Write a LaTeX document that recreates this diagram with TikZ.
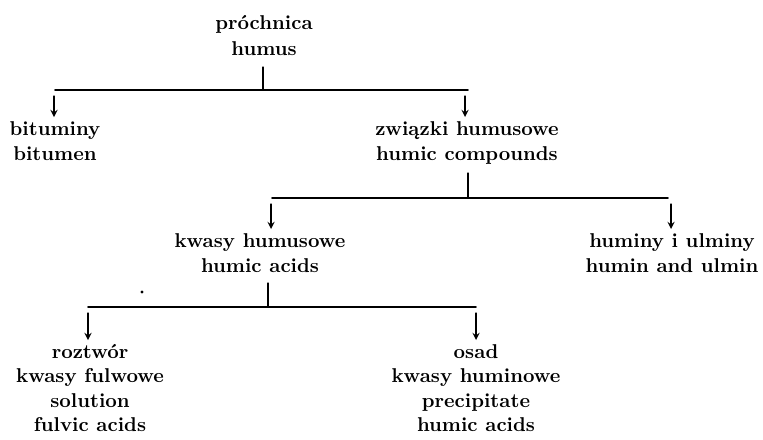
\documentclass[tikz,border=0pt]{standalone}
\usepackage{fontspec}
\usetikzlibrary{calc}

\begin{document}
\begin{tikzpicture}[x=0.5pt, y=-0.5pt, >=stealth, line cap=round,
    term/.style={anchor=north, align=center, inner sep=0pt,
        font=\bfseries\fontsize{10}{12.5}\selectfont},
    loose/.style={font=\bfseries\fontsize{10}{13}\selectfont},
    tight/.style={font=\bfseries\fontsize{10}{12.2}\selectfont},
    bar/.style={line width=0.8pt},
    stub/.style={line width=0.6pt},
    down/.style={->, line width=0.6pt, shorten >=2pt}]
    \useasboundingbox (0,0) rectangle (763,439);

    % hasła (terminy)
    \node[term, loose] (humus) at (264,15) {próchnica\\humus};
    \node[term] (bitumen) at (55,121)  {bituminy\\bitumen};
    \node[term] (humcomp) at (467,121) {związki humusowe\\humic compounds};
    \node[term] (humacid) at (260,233) {kwasy humusowe\\humic acids};
    \node[term] (humin)   at (672,233) {huminy i ulminy\\humin and ulmin};
    \node[term, tight] (fulvic) at (90,344)  {roztwór\\kwasy fulwowe\\solution\\fulvic acids};
    \node[term, tight] (humicp) at (476,344) {osad\\kwasy huminowe\\precipitate\\humic acids};

    % 1. podział próchnicy
    \coordinate (s1) at (263,67);
    \coordinate (m1) at (263,90);
    \coordinate (l1) at (55,90);
    \coordinate (r1) at (468,90);
    \coordinate (a1) at (54,96);
    \coordinate (b1) at (465,96);
    \draw[stub] (s1) -- (m1);
    \draw[bar] (l1) -- (r1);
    \draw[down] (a1) -- (a1 |- bitumen.north);
    \draw[down] (b1) -- (b1 |- humcomp.north);

    % 2. podział związków humusowych
    \coordinate (s2) at (468,173);
    \coordinate (m2) at (468,198);
    \coordinate (l2) at (272,198);
    \coordinate (r2) at (668,198);
    \coordinate (a2) at (271,204);
    \coordinate (b2) at (671,204);
    \draw[stub] (s2) -- (m2);
    \draw[bar] (l2) -- (r2);
    \draw[down] (a2) -- (a2 |- humacid.north);
    \draw[down] (b2) -- (b2 |- humin.north);

    % 3. podział kwasów humusowych
    \coordinate (s3) at (268,283);
    \coordinate (m3) at (268,307);
    \coordinate (l3) at (88,307);
    \coordinate (r3) at (476,307);
    \coordinate (a3) at (88,313);
    \coordinate (b3) at (476,313);
    \draw[stub] (s3) -- (m3);
    \draw[bar] (l3) -- (r3);
    \draw[down] (a3) -- (a3 |- fulvic.north);
    \draw[down] (b3) -- (b3 |- humicp.north);

    % kropka
    \fill (142,292) circle (1.6);
\end{tikzpicture}
\end{document}
